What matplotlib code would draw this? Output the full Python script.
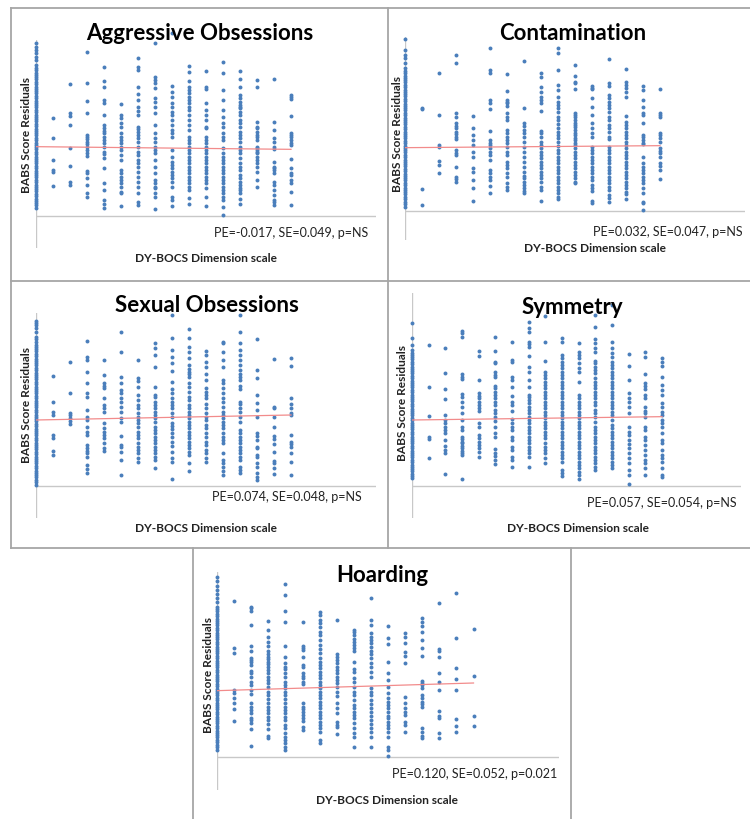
import matplotlib
matplotlib.use("Agg")
import matplotlib.pyplot as plt
from matplotlib.lines import Line2D

plt.rcParams['font.family'] = ['Lato', 'DejaVu Sans']

W, H = 750, 819

# residuals per DY-BOCS level (x = 0..15), one list per column
aggressive = [
    [15.5, 15.0, 14.5, 14.0, 13.5, 13.0, 12.3, 11.8, 11.5, 11.1, 10.8, 10.4, 10.1, 9.7, 9.4, 9.0, 8.7, 8.3, 8.0,
     7.6, 7.3, 6.9, 6.6, 6.2, 5.9, 5.5, 5.2, 4.8, 4.5, 4.1, 3.8, 3.4, 3.1, 2.7, 2.4, 2.0, 1.7, 1.3, 1.0, 0.6, 0.3,
     -0.1, -0.4, -0.8, -1.1, -1.5, -1.8, -2.2, -2.5, -2.9, -3.2, -3.6, -3.9, -4.3, -4.6, -5.0, -5.3, -5.7, -6.0,
     -6.4, -6.7, -7.1, -7.4, -7.8, -8.1, -8.5, -8.8, -9.2],
    [4.25, 1.35, -2.0, -3.5, -3.75, -5.9],
    [9.4, 5.1, 4.6, 3.25, -0.15, -2.85, -5.25, -5.75],
    [14.25, 9.6, 6.9, 5.0, 1.75, 1.5, 1.1, 0.75, 0.4, 0.0, -0.5, -1.0, -1.4, -3.65, -4.0, -4.75, -5.75, -7.0, -7.5],
    [12.0, 9.9, 8.9, 7.0, 6.5, 4.75, 3.25, 2.75, 2.35, 2.0, 1.5, 1.0, 0.5, 0.0, -0.75, -1.1, -1.75, -3.25, -5.5,
     -6.5, -8.0, -8.6, -9.25],
    [6.4, 4.75, 4.25, 3.5, 3.0, 2.0, 1.5, 1.0, 0.5, 0.0, -0.5, -1.25, -2.0, -3.5, -4.0, -4.5, -5.0, -5.5, -6.0,
     -6.75, -7.0, -8.9],
    [13.35, 12.0, 11.5, 9.0, 7.9, 7.0, 6.0, 5.35, 4.75, 3.0, 2.6, 2.25, 1.75, 1.25, 0.75, 0.0, -0.75, -1.25, -2.0,
     -2.5, -3.0, -3.75, -4.5, -5.25, -6.0, -7.0, -8.25, -8.75],
    [15.5, 10.4, 10.0, 9.5, 8.75, 7.25, 6.75, 6.0, 5.0, 3.25, 2.0, 1.25, 0.75, 0.0, -0.5, -1.0, -2.0, -3.0, -4.0,
     -5.0, -5.5, -6.0, -6.25, -7.0, -7.6, -9.4],
    [17.0, 9.1, 8.25, 7.5, 6.5, 6.0, 5.25, 4.75, 4.0, 3.25, 2.5, 2.0, 1.5, -0.5, -1.5, -2.25, -2.75, -3.25, -3.75,
     -4.25, -4.75, -5.25, -6.0, -7.5, -8.0, -8.85],
    [12.1, 11.25, 9.9, 9.0, 8.5, 8.0, 7.5, 7.0, 6.5, 6.0, 5.5, 4.75, 4.0, 3.25, 2.5, 1.5, 1.0, 0.5, 0.0, -0.5,
     -1.0, -1.5, -2.0, -2.5, -3.0, -3.5, -4.0, -4.5, -5.0, -5.5, -6.0, -6.5, -7.75, -8.6],
    [11.35, 8.9, 8.65, 6.5, 5.5, 4.75, 4.0, 3.0, 2.75, 1.5, 1.0, 0.5, 0.0, -0.5, -1.0, -1.5, -2.0, -2.5, -3.0,
     -3.5, -4.0, -4.5, -5.0, -5.5, -6.25, -7.5, -8.9],
    [12.75, 11.1, 8.5, 7.0, 5.5, 4.5, 3.5, 3.0, 2.0, 1.5, 1.0, -0.25, -1.0, -1.5, -2.0, -2.5, -3.0, -3.5, -4.0,
     -4.5, -5.0, -5.5, -6.0, -6.5, -7.0, -7.5, -8.0, -9.0, -10.25],
    [11.4, 10.1, 8.9, 7.75, 7.25, 6.75, 6.25, 6.0, 5.75, 5.25, 4.75, 4.0, 3.5, 3.0, 2.25, 1.75, 1.25, 0.75, 0.0,
     -0.5, -1.0, -1.75, -2.5, -3.0, -3.5, -4.25, -4.75, -5.25, -5.75, -6.25, -6.5, -7.0, -7.9, -8.6],
    [10.0, 8.9, 3.75, 3.0, 2.75, 2.25, 1.75, 1.5, 1.0, 0.0, -0.25, -0.5, -0.75, -1.0, -1.5, -2.0, -2.5, -3.0,
     -3.75, -5.0, -6.1],
    [10.15, 3.75, 2.5, 1.25, 0.75, 0.0, -0.35, -2.25, -3.0, -3.25, -3.5, -4.0, -5.25, -5.75, -6.5, -7.25, -8.0,
     -8.25, -8.75],
    [7.75, 7.5, 7.15, 4.6, 2.0, 1.75, 1.5, 1.0, 0.6, 0.25, -1.9, -3.25, -4.0, -4.25, -5.0, -5.5, -6.75, -8.75],
]

contamination = [
    [16.25, 14.65, 13.9, 13.4, 12.65, 11.9, 11.5, 11.2, 10.8, 10.5, 10.1, 9.8, 9.4, 9.1, 8.7, 8.4, 8.0, 7.7, 7.3,
     7.0, 6.6, 6.3, 5.9, 5.6, 5.2, 4.9, 4.5, 4.2, 3.8, 3.5, 3.1, 2.8, 2.4, 2.1, 1.7, 1.4, 1.0, 0.7, 0.3, 0.0,
     -0.4, -0.7, -1.1, -1.4, -1.8, -2.1, -2.5, -2.8, -3.2, -3.5, -3.9, -4.2, -4.6, -4.9, -5.3, -5.6, -6.0, -6.3,
     -6.7, -7.0, -7.4, -7.7, -8.1, -8.4, -8.85],
    [5.9, 5.75, -6.25, -8.6],
    [11.25, 4.9, 0.4, 0.15, -1.95, -2.6, -3.85],
    [13.9, 12.65, 5.15, 4.65, 3.65, 3.25, 2.9, 2.4, 2.0, 1.65, 1.25, -0.35, -0.75, -1.1, -2.85, -4.35, -4.75, -5.1],
    [4.8, 3.0, 1.9, 1.15, 0.4, -0.6, -1.35, -3.1, -3.6, -4.85, -6.1, -8.0],
    [15.0, 11.65, 11.25, 7.15, 6.75, 5.75, 2.55, 1.15, 0.75, 0.4, -0.1, -0.6, -1.1, -1.85, -3.35, -3.85, -4.35,
     -4.85, -5.75, -6.85],
    [11.05, 8.5, 7.15, 6.9, 6.65, 6.25, 5.15, 4.65, 4.15, 2.65, 2.15, 1.65, 1.15, 0.65, 0.15, -0.6, -1.1, -2.1,
     -2.6, -3.1, -3.85, -4.35, -5.35, -5.85, -6.35],
    [13.0, 6.0, 3.65, 3.25, 2.65, 2.15, 1.65, 0.9, 0.15, -0.6, -1.35, -2.1, -2.85, -3.6, -4.25, -4.6, -5.1, -5.6,
     -6.1, -6.45, -6.85],
    [11.25, 10.55, 9.05, 8.4, 7.65, 7.15, 6.65, 5.5, 2.55, 2.15, 1.65, 0.9, 0.4, -0.1, -0.6, -1.1, -1.6, -2.1,
     -2.6, -3.1, -3.6, -4.1, -4.6, -5.1, -5.85, -6.35, -8.0],
    [14.9, 14.25, 11.65, 9.4, 8.65, 7.65, 6.9, 6.4, 5.9, 5.4, 4.65, 4.15, 3.55, 2.9, 2.4, 1.9, 1.4, 0.9, 0.3,
     -0.35, -0.85, -1.35, -1.85, -2.35, -2.85, -3.35, -3.85, -4.35, -4.85, -5.35, -5.85, -6.35, -6.85, -7.35, -7.7],
    [12.4, 10.75, 9.9, 9.65, 8.75, 5.15, 4.9, 4.55, 4.15, 3.75, 3.4, 3.05, 2.65, 2.25, 1.9, 1.5, 1.15, 0.75, 0.4,
     -0.1, -0.6, -1.1, -1.6, -2.1, -2.6, -3.1, -3.6, -4.1, -4.6, -5.1, -5.35],
    [9.25, 9.0, 8.75, 7.4, 6.15, 4.9, 3.65, 2.9, 2.15, 1.65, 0.15, -0.35, -0.85, -1.35, -1.85, -2.35, -2.85,
     -3.35, -3.85, -4.35, -4.85, -5.6, -6.1, -6.45, -8.0, -8.35],
    [13.3, 9.65, 9.25, 7.9, 7.4, 6.9, 6.4, 5.9, 5.4, 4.65, 4.15, 3.4, 2.9, 2.4, 1.65, 1.25, 0.15, -0.35, -0.85,
     -1.35, -1.85, -2.35, -2.85, -3.35, -3.85, -4.35, -4.85, -5.35, -5.85, -6.35, -7.1, -7.6, -8.1],
    [11.75, 9.9, 9.4, 8.9, 8.4, 7.55, 4.75, 3.9, 3.4, 2.9, 2.4, 1.9, 1.4, 0.9, 0.4, -0.1, -0.6, -1.1, -1.6, -2.1,
     -2.6, -3.1, -3.6, -4.1, -4.6, -5.1, -5.6, -6.1, -6.6, -7.0, -7.75],
    [9.25, 8.65, 7.15, 6.15, 5.15, 4.9, 3.75, 1.9, 1.65, 1.15, 0.75, 0.5, -1.35, -2.35, -2.85, -3.35, -3.85,
     -4.35, -4.85, -5.35, -6.1, -6.75, -8.1, -8.35, -9.35],
    [8.75, 5.15, 4.9, 4.55, 2.25, 1.9, 1.4, 0.9, -0.1, -0.45, -0.85, -1.35, -2.35, -2.75, -3.35, -4.75],
]

sexual = [
    [14.8, 14.5, 14.2, 13.8, 13.2, 12.5, 12.1, 11.7, 11.3, 11.0, 10.6, 10.3, 9.9, 9.6, 9.2, 8.9, 8.5, 8.2, 7.8,
     7.5, 7.1, 6.8, 6.4, 6.1, 5.7, 5.4, 5.0, 4.7, 4.3, 4.0, 3.6, 3.3, 2.9, 2.6, 2.2, 1.9, 1.5, 1.2, 0.8, 0.5, 0.1,
     -0.2, -0.6, -0.9, -1.3, -1.6, -2.0, -2.3, -2.7, -3.0, -3.4, -3.7, -4.1, -4.4, -4.8, -5.1, -5.5, -5.8, -6.2,
     -6.5, -6.9, -7.2, -7.6, -7.9, -8.3, -8.6, -9.0, -9.3, -9.75],
    [6.6, 2.65, 1.25, 0.75, -2.25, -2.75, -4.6, -5.25],
    [8.75, 4.1, 1.1, 0.75, 0.25, -0.1, -0.6],
    [11.85, 9.5, 9.0, 7.25, 5.5, 4.0, 3.5, 1.5, 0.5, 0.0, -1.0, -1.75, -2.25, -3.75, -4.25, -4.6, -5.0, -5.5,
     -6.75, -7.4, -7.9],
    [9.0, 6.75, 5.5, 5.1, 4.75, 3.25, 2.25, 1.75, 1.25, -0.5, -1.25, -1.75, -2.25, -2.75, -3.5, -4.15, -4.6],
    [13.15, 10.25, 6.5, 5.5, 4.5, 4.0, 3.25, 2.75, 2.0, 1.25, 0.25, -0.25, -2.4, -3.75, -4.0, -4.75, -6.0, -8.25],
    [9.0, 6.25, 5.85, 5.0, 3.75, 3.0, 2.25, 1.75, 1.0, 0.5, 0.0, -0.5, -1.0, -1.75, -2.25, -2.75, -3.5, -4.0,
     -4.5, -5.0, -5.75, -6.25],
    [11.6, 10.85, 9.75, 7.9, 4.9, 3.75, 3.4, 2.75, 2.25, 1.75, 1.25, 0.75, 0.25, -0.25, -1.0, -1.5, -2.0, -2.5,
     -3.0, -3.5, -4.0, -4.5, -5.0, -5.5, -6.0, -7.25],
    [15.75, 12.25, 10.5, 9.4, 8.5, 7.4, 5.75, 4.6, 4.0, 3.25, 2.75, 2.25, 1.75, 1.0, 0.5, -0.4, -0.9, -1.4, -2.0,
     -2.6, -3.25, -3.9, -4.75, -5.75, -6.25, -8.9],
    [13.6, 12.25, 11.0, 10.25, 9.25, 8.25, 7.6, 7.25, 6.85, 6.5, 5.5, 5.0, 4.25, 3.5, 3.0, 2.25, 1.75, 1.25,
     0.75, 0.25, -0.25, -0.75, -1.25, -1.75, -2.25, -2.75, -3.25, -3.75, -4.25, -4.75, -5.25, -6.4, -7.6],
    [10.35, 9.75, 8.75, 7.9, 6.9, 6.0, 4.75, 4.25, 3.75, 3.25, 2.4, 1.75, 1.1, 0.5, 0.0, -0.75, -1.25, -2.0,
     -2.5, -3.25, -3.75, -4.5, -5.0, -5.75, -6.25],
    [11.75, 11.5, 10.25, 9.0, 8.0, 6.0, 5.5, 4.75, 4.0, 3.25, 2.75, 2.0, 1.25, 0.75, 0.25, -0.25, -0.75, -1.25,
     -2.0, -2.5, -3.0, -3.5, -5.0, -6.0, -6.5, -7.0, -7.6, -8.25],
    [15.75, 13.25, 11.5, 10.5, 9.75, 9.0, 8.25, 7.5, 6.85, 6.5, 6.0, 5.1, 4.6, 2.75, 2.4, 1.75, 1.25, 0.5, -0.25,
     -1.5, -2.0, -2.5, -3.0, -3.5, -4.0, -4.5, -5.0, -5.5, -6.0, -7.0, -7.5, -7.9],
    [12.1, 7.5, 6.25, 3.75, 2.5, 1.5, 0.5, -1.9, -2.4, -3.0, -4.0, -4.25, -5.25, -5.5, -6.4, -7.1, -7.9, -8.5,
     -9.0],
    [9.1, 2.0, 1.75, 0.5, -1.0, -2.4, -2.9, -3.6, -4.75, -6.1, -6.4, -7.25, -8.1],
    [9.35, 8.1, 3.25, 2.4, 1.75, 1.1, 0.75, -2.25, -3.25, -3.6, -4.0, -5.0, -6.25, -8.25],
]

symmetry = [
    [14.5, 12.25, 11.25, 10.5, 10.1, 9.8, 9.4, 9.1, 8.7, 8.4, 8.0, 7.7, 7.3, 7.0, 6.6, 6.3, 5.9, 5.6, 5.2, 4.9,
     4.5, 4.2, 3.8, 3.5, 3.1, 2.8, 2.4, 2.1, 1.7, 1.4, 1.0, 0.7, 0.3, 0.0, -0.4, -0.7, -1.1, -1.4, -1.8, -2.1,
     -2.5, -2.8, -3.2, -3.5, -3.9, -4.2, -4.6, -4.9, -5.3, -5.6, -6.0, -6.3, -6.7, -7.0, -7.4, -7.7, -8.1, -8.4,
     -8.75],
    [11.25, 5.0, 0.6, -2.6, -2.9, -5.65],
    [10.75, 7.0, 4.6, 3.1, 0.75, 0.0, -0.5, -1.0, -1.5, -2.0, -3.0, -3.9, -4.5, -4.9, -8.1],
    [13.4, 13.1, 12.4, 6.9, 6.5, 6.1, 3.9, 3.4, 2.75, 2.0, 1.0, 0.0, -1.0, -1.5, -2.5, -2.9, -3.25, -3.5, -3.9,
     -4.25, -4.6, -4.9, -5.25, -8.85],
    [10.4, 9.6, 6.0, 4.0, 3.6, 3.25, 2.75, 2.25, 1.85, 1.4, -0.5, -1.0, -2.25, -2.75, -3.25, -3.75, -4.25, -4.75,
     -5.5],
    [12.4, 10.4, 8.75, 8.5, 7.25, 6.75, 6.4, 5.1, 4.75, 4.25, 3.75, 3.25, 2.75, 2.25, 1.5, 1.0, 0.5, -0.1, -1.0,
     -2.0, -2.5, -4.4, -4.9, -5.4, -6.0, -6.6],
    [11.75, 9.0, 8.75, 6.5, 6.0, 5.0, 3.6, 2.75, 2.25, 1.4, 0.1, -0.4, -1.0, -1.5, -2.5, -3.0, -4.0, -4.5, -5.5,
     -6.0, -7.1],
    [14.75, 13.75, 13.25, 11.75, 11.4, 11.0, 9.6, 8.0, 7.25, 6.0, 5.0, 3.75, 3.4, 3.0, 2.5, 2.0, 1.5, 1.0, 0.5,
     0.0, -0.5, -1.0, -1.5, -2.0, -2.5, -3.0, -3.5, -4.0, -4.5, -5.0, -5.5, -7.1],
    [15.6, 11.75, 8.9, 7.25, 6.75, 6.25, 5.75, 5.25, 4.75, 4.25, 3.75, 3.25, 2.75, 2.25, 1.75, 1.25, 0.75, 0.25,
     -0.25, -0.75, -1.25, -1.75, -2.25, -2.75, -3.5, -4.0, -4.5, -5.0, -5.75, -6.4],
    [12.25, 11.75, 9.75, 9.25, 8.75, 8.25, 7.75, 7.25, 6.75, 6.25, 5.75, 5.25, 4.75, 4.25, 3.75, 3.25, 2.75,
     2.25, 1.75, 1.25, 0.75, 0.25, -0.25, -0.75, -1.25, -1.75, -2.25, -2.75, -3.25, -3.75, -4.25, -4.75, -5.25,
     -5.75, -6.25, -7.5, -7.9, -8.4],
    [11.6, 10.25, 9.75, 9.25, 8.5, 7.75, 7.25, 5.75, 3.75, 3.25, 2.75, 2.25, 1.75, 1.25, 0.75, 0.25, -0.25,
     -0.75, -1.25, -1.75, -2.25, -2.75, -3.25, -3.75, -4.25, -4.75, -5.25, -5.75, -6.25, -6.75, -7.25, -7.75,
     -8.25, -8.9],
    [15.75, 14.0, 12.1, 11.6, 10.75, 10.25, 8.9, 8.5, 8.0, 7.5, 7.0, 6.25, 5.75, 5.25, 4.75, 4.25, 3.75, 3.25,
     2.75, 2.25, 1.5, 1.0, 0.5, -0.25, -1.0, -1.5, -2.0, -2.5, -3.0, -3.5, -4.0, -4.5, -5.0, -5.5, -6.0, -6.5,
     -7.0, -7.5],
    [17.25, 14.25, 11.75, 10.75, 10.0, 9.5, 8.75, 8.25, 7.75, 7.25, 6.75, 6.25, 5.75, 5.25, 4.75, 4.25, 3.75,
     3.25, 2.75, 2.25, 1.75, 1.25, 0.75, 0.0, -0.75, -1.25, -1.75, -2.25, -2.75, -3.25, -3.75, -4.25, -4.75,
     -5.25, -5.75, -6.25, -6.75, -7.25],
    [9.9, 8.1, 6.0, 4.0, 3.25, 2.75, 2.0, 1.0, -1.0, -1.75, -2.25, -3.0, -3.6, -4.25, -5.0, -5.75, -6.5, -7.5,
     -8.25, -9.6],
    [10.25, 9.4, 6.9, 5.5, 5.1, 4.6, 3.75, 3.25, 2.0, 1.4, 1.0, 0.5, -1.0, -1.5, -2.5, -3.0, -3.75, -4.5, -5.25,
     -6.0, -6.4, -7.25, -8.25],
    [9.25, 8.75, 8.1, 6.4, 5.25, 4.5, 3.75, 2.5, 2.0, 1.25, 0.75, 0.0, -0.5, -1.0, -2.0, -3.0, -3.4, -4.5, -5.25,
     -5.75, -6.25, -7.25, -8.25, -8.5],
]

hoarding = [
    [17.1, 16.45, 15.75, 15.1, 14.45, 13.85, 13.25, 12.6, 12.2, 11.9, 11.5, 11.2, 10.8, 10.5, 10.1, 9.8, 9.4,
     9.1, 8.7, 8.4, 8.0, 7.7, 7.3, 7.0, 6.6, 6.3, 5.9, 5.6, 5.2, 4.9, 4.5, 4.2, 3.8, 3.5, 3.1, 2.8, 2.4, 2.1, 1.7,
     1.4, 1.0, 0.7, 0.3, 0.0, -0.4, -0.7, -1.1, -1.4, -1.8, -2.1, -2.5, -2.8, -3.2, -3.5, -3.9, -4.2, -4.6, -4.9,
     -5.3, -5.6, -6.0, -6.3, -6.7, -7.0, -7.4, -7.7, -8.1, -8.4, -8.9],
    [13.45, 6.45, 5.6, 0.1, -0.4, -1.15, -1.9, -2.75, -4.55],
    [12.6, 12.35, 11.95, 9.85, 6.75, 5.95, 4.85, 4.6, 4.35, 3.85, 2.95, 2.6, 2.1, 1.35, 0.85, 0.1, -0.55, -1.9,
     -2.4, -2.9, -3.4, -4.05, -4.4, -4.9, -5.8, -8.25],
    [10.45, 9.1, 8.1, 7.35, 6.75, 5.95, 5.45, 5.1, 4.75, 4.35, 3.95, 3.6, 3.1, 2.6, 2.1, 1.6, 1.1, 0.6, -0.15,
     -0.65, -1.25, -1.9, -2.4, -2.9, -3.4, -3.9, -4.4, -5.05, -5.75, -6.75, -7.15],
    [15.95, 14.35, 11.95, 10.35, 6.75, 5.1, 4.1, 3.6, 3.25, 2.6, 2.1, 1.35, 0.85, 0.35, -0.15, -0.65, -1.25,
     -1.9, -2.4, -2.9, -3.4, -3.9, -4.4, -5.15, -5.65, -6.4, -6.9, -7.4, -7.9, -8.4, -8.9],
    [10.35, 6.75, 6.45, 6.1, 5.1, 3.85, 3.5, 2.6, 2.25, 1.85, 1.35, 0.95, -1.9, -2.4, -2.75, -3.15, -3.65, -4.05,
     -4.55, -5.4, -5.9],
    [11.75, 11.35, 10.6, 10.1, 9.6, 8.85, 8.35, 7.6, 6.85, 6.25, 5.6, 4.95, 4.35, 3.85, 3.35, 2.85, 2.35, 1.85,
     1.35, 0.85, 0.35, -0.15, -0.65, -1.15, -1.65, -2.15, -2.65, -3.15, -3.65, -4.15, -4.65, -5.15, -5.65, -6.15,
     -7.4, -7.9],
    [10.6, 5.45, 5.1, 4.6, 4.1, 3.6, 3.1, 2.6, 2.1, 1.6, 1.1, 0.6, -0.15, -0.75, -1.9, -2.65, -3.4, -4.65, -5.15,
     -5.4, -6.55],
    [9.1, 8.75, 8.35, 7.75, 7.35, 6.85, 6.35, 5.95, 4.35, 3.25, 2.85, 1.85, 1.35, 0.6, -0.15, -0.65, -1.4, -2.15,
     -2.65, -3.15, -3.65, -4.15, -4.9, -5.55, -6.4, -6.9, -8.4],
    [13.95, 10.6, 9.85, 8.6, 8.1, 7.6, 7.1, 6.6, 5.95, 5.45, 4.85, 4.1, 3.6, 2.85, 2.1, 0.45, -0.15, -0.65, -1.4,
     -2.05, -2.55, -3.15, -3.75, -4.4, -5.05, -5.65, -6.25, -6.9, -8.4],
    [9.75, 7.85, 6.95, 4.35, 2.6, 1.6, 0.6, -0.4, -1.15, -1.65, -2.15, -2.65, -3.15, -3.75, -4.15, -4.65, -5.15,
     -5.65, -6.15, -6.9, -8.4, -8.9, -9.75],
    [8.6, 8.1, 7.2, 5.85, 5.25, 4.1, -0.9, -1.9, -2.55, -3.15, -3.65, -4.75, -5.15, -6.15],
    [10.95, 10.25, 9.75, 8.75, 7.6, 6.45, 5.2, 1.45, 1.1, 0.85, 0.35, -0.65, -1.15, -1.65, -2.05, -2.4, -5.55,
     -6.15, -6.75, -7.15],
    [13.1, 6.25, 5.95, 5.1, 2.6, 1.25, 0.1, -3.05, -3.75, -4.15, -6.4, -7.05],
    [14.7, 7.85, 3.45, 1.75, 0.1, -4.25, -5.25, -6.25],
    [9.25, 2.25, -3.8, -5.3],
]

titles = ["Aggressive Obsessions", "Contamination", "Sexual Obsessions", "Symmetry", "Hoarding"]
stats = ["PE=-0.017, SE=0.049, p=NS", "PE=0.032, SE=0.047, p=NS", "PE=0.074, SE=0.048, p=NS",
         "PE=0.057, SE=0.054, p=NS", "PE=0.120, SE=0.052, p=0.021"]
# fitted line value at x=0 and at x=15
trend = [(0.0, -0.4), (0.0, 0.3), (0.0, 0.75), (0.0, 0.5), (0.0, 1.15)]
panels = [aggressive, contamination, sexual, symmetry, hoarding]

# layout in pixels: axis left, top, bottom, px per x unit, xmax, ylim, x-axis crossing,
# title centre, stats left/centre-y, xlabel centre, ylabel centre
layout = [
    dict(l=36, t=40, b=248, cw=17.0, xmax=20, ylim=(-15.2, 16.0), xc=-10.4,
         tt=(200, 33), st=(214, 233), xl=(206, 258), yl=(27, 135)),
    dict(l=405, t=37, b=240, cw=17.0, xmax=20, ylim=(-13.85, 16.6), xc=-9.5,
         tt=(573, 33), st=(593, 232), xl=(595, 248), yl=(398, 134)),
    dict(l=36, t=313, b=518, cw=17.0, xmax=20, ylim=(-14.7, 16.05), xc=-9.9,
         tt=(207, 305), st=(212, 497), xl=(206, 528), yl=(27, 405)),
    dict(l=412, t=293, b=518, cw=16.67, xmax=19.75, ylim=(-14.7, 19.05), xc=-9.85,
         tt=(572, 307), st=(587, 503), xl=(578, 528), yl=(402, 403)),
    dict(l=217, t=572, b=790, cw=17.1, xmax=20, ylim=(-14.9, 17.8), xc=-9.9,
         tt=(382, 575), st=(392, 774), xl=(387, 801), yl=(208, 675)),
]

dot_col = '#4A7EBB'
line_col = '#F28B8B'
axis_col = '#C8C8C8'
frame_col = '#A6A6A6'

fig = plt.figure(figsize=(W / 100, H / 100), dpi=100)


def fx(x):
    return x / W


def fy(y):
    return 1 - y / H


for cols, tr, title, stat, g in zip(panels, trend, titles, stats, layout):
    ax = fig.add_axes([fx(g['l']), fy(g['b']), g['xmax'] * g['cw'] / W, (g['b'] - g['t']) / H])
    ax.set_xlim(0, g['xmax'])
    ax.set_ylim(*g['ylim'])
    ax.axis('off')
    ax.axvline(0, color=axis_col, lw=1.0, zorder=1)
    ax.axhline(g['xc'], color=axis_col, lw=1.0, zorder=1)
    for i, ys in enumerate(cols):
        ax.scatter([i] * len(ys), ys, s=8, color=dot_col, linewidths=0, clip_on=False, zorder=2)
    ax.plot([0, 15], tr, color=line_col, lw=0.9, zorder=3)

    fig.text(fx(g['tt'][0]), fy(g['tt'][1]), title, ha='center', va='center',
             fontsize=16, fontweight='bold', zorder=5)
    fig.text(fx(g['st'][0]), fy(g['st'][1]), stat, ha='left', va='center', fontsize=9.0, color='#222222')
    fig.text(fx(g['xl'][0]), fy(g['xl'][1]), 'DY-BOCS Dimension scale', ha='center', va='center',
             fontsize=8.6, fontweight='bold', color='#222222')
    fig.text(fx(g['yl'][0]), fy(g['yl'][1]), 'BABS Score Residuals', ha='center', va='center',
             rotation=90, fontsize=8.6, fontweight='bold', color='#222222')

# panel frames
frame = [
    ((11, 750), (8, 8)), ((11, 750), (281, 281)), ((11, 750), (548, 548)),
    ((11, 11), (8, 548)), ((388, 388), (8, 548)),
    ((193, 193), (548, 819)), ((571, 571), (548, 819)),
]
for xs, ys in frame:
    fig.add_artist(Line2D([fx(v) for v in xs], [fy(v) for v in ys], color=frame_col, lw=1.3))

fig.savefig('out.png', dpi=100)
